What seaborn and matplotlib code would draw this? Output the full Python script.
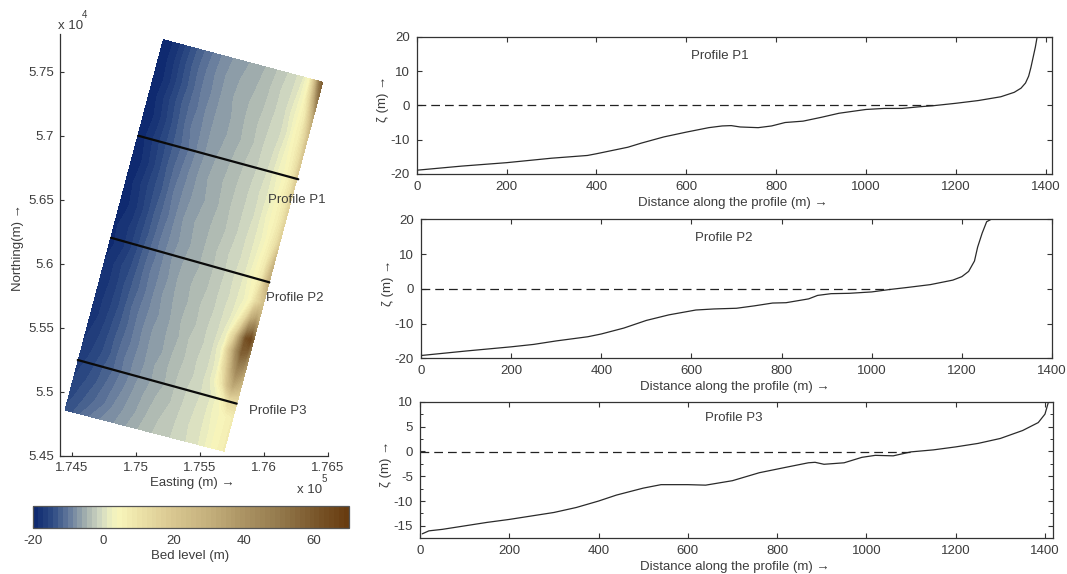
import numpy as np
import pandas as pd
import matplotlib
matplotlib.use('Agg')
import matplotlib.pyplot as plt
from matplotlib.colors import LinearSegmentedColormap
import seaborn as sns

W, H = 1067, 574
TXT = '#3c3c3c'
AXC = '#333333'
FS = 9.5

# bed level map: corners of the model area (easting, northing)
corner_nw = [175216, 57752]
corner_ne = [176461, 57420]
corner_sw = [174448, 54859]
corner_se = [175690, 54537]

# fraction across the area (west to east) and along it (north to south)
across = [0, .05, .1, .16, .23, .3, .38, .46, .54, .62, .7, .77, .83, .88, .92, .95, .98, 1]
along = [0, .05, .1, .15, .2, .26, .32, .38, .44, .5, .55, .6, .645, .7, .74, .79, .83, .865, .91, .96, 1]
bed_level = [
    [-20, -19, -17.5, -15, -12.5, -10.5, -8.5, -7, -6, -5, -3.5, -2, -.8, 1, 5, 22, 50, 58],
    [-20, -18.8, -17.2, -14.8, -12.2, -10.2, -8.2, -6.6, -5.6, -4.6, -3.2, -1.7, -.5, 1.5, 4.5, 14, 34, 50],
    [-20, -19, -17.5, -15, -12.5, -10.2, -8.4, -6.5, -5.4, -4.3, -3.1, -1.7, -.3, 2, 4.5, 8, 20, 32],
    [-20, -18.6, -17, -14.7, -12.2, -10.4, -8.1, -6.7, -5.7, -4.2, -2.9, -1.5, -.5, 1.5, 5, 7, 14, 22],
    [-20, -19, -17.5, -15.2, -12.5, -10.1, -8.4, -6.4, -5.8, -4.4, -3, -1.3, -.2, 2, 4.5, 7, 12, 20],
    [-20, -18.5, -17, -15, -12.8, -10.8, -8.4, -6.5, -5.3, -4, -2.6, -1.4, 0, 2.5, 4, 6, 11, 18],
    [-20, -19, -17.5, -15.3, -12.6, -10.4, -8.1, -6.2, -5.1, -3.7, -2.5, -1.1, .3, 2, 4.5, 6.5, 10, 16],
    [-19.5, -18.5, -17, -15, -12.9, -10.1, -8, -6.4, -5.4, -3.8, -2.3, -1.2, .2, 2.5, 4.5, 6, 10, 15],
    [-19.5, -18.8, -17.5, -15.3, -12.5, -10.4, -7.7, -6.1, -4.9, -3.9, -2.5, -1, .5, 2, 4.2, 7, 11, 17],
    [-19, -18, -17, -15, -12.5, -10, -7.9, -6.3, -5, -3.6, -2.1, -.8, .3, 2.5, 5, 8, 18, 28],
    [-19, -18.3, -17, -14.9, -12.1, -10, -7.6, -6, -5, -3.6, -2.4, -.6, .5, 3, 5, 9, 22, 30],
    [-18.5, -17.5, -16, -14.5, -12, -9.7, -7.9, -5.9, -4.6, -3.7, -2.1, -.8, .8, 2.5, 5, 12, 18, 22],
    [-18.5, -17.5, -16.2, -14.1, -12, -9.9, -7.6, -6, -4.8, -3.3, -2.2, -.6, 1, 4, 14, 30, 36, 30],
    [-18.5, -17.2, -16, -14.2, -11.6, -9.6, -7.8, -6.3, -4.6, -3.5, -1.9, -.6, 2, 16, 42, 62, 66, 56],
    [-18, -17.2, -15.8, -13.9, -11.8, -9.5, -7.5, -6.2, -4.9, -3.1, -2, -.4, 3, 24, 46, 58, 56, 46],
    [-17.5, -16.5, -15.5, -13.6, -11.5, -9.7, -7.5, -6.5, -4.6, -3.2, -1.7, -.5, 2, 16, 34, 44, 40, 34],
    [-17, -16.2, -15, -13.7, -11.3, -9.3, -7.7, -5.9, -4.5, -3, -1.8, -.3, 2, 9, 24, 32, 28, 24],
    [-16.5, -15.6, -14.5, -13, -11.4, -9.4, -7.5, -6, -4.7, -2.9, -1.5, -.4, .8, 3, 8, 14, 14, 14],
    [-15.8, -14.8, -14, -12.5, -10.6, -9, -7, -5.5, -4, -3, -1.3, -.2, 1, 3, 4, 5, 6, 7],
    [-15, -14, -12.8, -11.5, -10, -8, -6.8, -5, -3.5, -2.5, -1.2, 0, 1, 2.5, 4, 5, 6, 7],
    [-14, -13, -11.5, -10, -8.5, -7.5, -6, -4.5, -3.2, -2.5, -1, -.2, .8, 2.5, 4, 5, 6, 7],
]

# profile tracks on the map
track_e = [[175020, 176270], [174807, 176044], [174547, 175789]]
track_n = [[57002, 56662], [56205, 55857], [55250, 54909]]

# colour scale of the bed level
cmap_levels = [-20, -15, -10, -5, -1, 2, 4, 10, 20, 30, 40, 50, 60, 70]
cmap_colors = ['#0f2a70', '#2f4c84', '#6a7f9e', '#a8b4b0', '#d3dac2', '#eef0c0', '#f8f5bb',
               '#ece2a8', '#d8c690', '#c4b07c', '#ac9464', '#957b4e', '#7c5a2e', '#683c10']

# bed profiles (distance m, level m)
p1_x = [0, 100, 200, 300, 380, 400, 470, 500, 550, 600, 650, 680, 700, 720, 760, 790, 820, 860, 900,
        940, 1000, 1040, 1080, 1120, 1150, 1200, 1250, 1300, 1330, 1345, 1355, 1362, 1367, 1372, 1377, 1381]
p1_z = [-18.9, -17.7, -16.7, -15.4, -14.6, -14.1, -12.2, -11, -9.2, -7.8, -6.5, -6, -5.9, -6.3, -6.5,
        -6, -5, -4.6, -3.5, -2.3, -1.2, -.9, -.9, -.4, -.1, .6, 1.4, 2.5, 3.8, 5, 6.5, 8.5, 11, 14, 17, 20]
p2_x = [0, 100, 200, 250, 300, 370, 400, 450, 500, 550, 610, 650, 700, 740, 780, 810, 860, 880, 910,
        950, 1000, 1040, 1080, 1130, 1180, 1200, 1215, 1228, 1235, 1245, 1255, 1265]
p2_z = [-19.2, -17.9, -16.7, -16, -15, -13.8, -13, -11.3, -9.1, -7.5, -6.1, -5.8, -5.6, -4.9, -4.1, -4,
        -2.9, -1.9, -1.4, -1.3, -.9, -.2, .4, 1.2, 2.5, 3.5, 5, 8, 12, 16, 19.3, 20]
p3_x = [5, 20, 50, 100, 150, 200, 250, 300, 350, 400, 440, 500, 540, 600, 640, 700, 760, 820, 870, 885,
        905, 950, 990, 1020, 1060, 1100, 1150, 1200, 1250, 1300, 1350, 1385, 1400, 1408]
p3_z = [-16.6, -16, -15.7, -15, -14.3, -13.7, -13, -12.3, -11.3, -10, -8.8, -7.4, -6.7, -6.7, -6.8, -5.9,
        -4.3, -3.2, -2.3, -2.2, -2.6, -2.3, -1.2, -.8, -.9, -.1, .3, .9, 1.6, 2.6, 4.2, 5.8, 7.5, 10]
dash_end = [1150, 1040, 1100]
dash_level = [0, 0, -0.1]
x_limits = [1414, 1400, 1418]
y_limits = [(-20, 20), (-20, 20), (-17.5, 10)]
y_ticks = [[-20, -10, 0, 10, 20], [-20, -10, 0, 10, 20], [-15, -10, -5, 0, 5, 10]]
dist_ticks = [0, 200, 400, 600, 800, 1000, 1200, 1400]
profile_names = ['Profile P1', 'Profile P2', 'Profile P3']
map_x_ticks = [174500, 175000, 175500, 176000, 176500]
map_x_labels = ['1.745', '1.75', '1.755', '1.76', '1.765']
map_y_ticks = [54500, 55000, 55500, 56000, 56500, 57000, 57500]
map_y_labels = ['5.45', '5.5', '5.55', '5.6', '5.65', '5.7', '5.75']

sns.set_theme(style='ticks')
plt.rcParams['font.family'] = ['Liberation Sans', 'DejaVu Sans']
plt.rcParams['font.size'] = FS
plt.rcParams['axes.unicode_minus'] = False
plt.rcParams['axes.edgecolor'] = AXC
plt.rcParams['axes.linewidth'] = 0.9


def px_axes(fig, left, top, right, bottom):
    return fig.add_axes([left / W, 1 - bottom / H, (right - left) / W, (bottom - top) / H])


def px_text(fig, x, y, s, **kw):
    kw.setdefault('ha', 'center')
    kw.setdefault('va', 'center')
    kw.setdefault('color', TXT)
    kw.setdefault('fontsize', FS)
    fig.text(x / W, 1 - y / H, s, **kw)


def plot_map(fig):
    ax = px_axes(fig, 59.7, 33.6, 327.7, 456)
    u, v = np.meshgrid(across, along)
    nw, ne, sw, se = [np.array(c, dtype=float) for c in (corner_nw, corner_ne, corner_sw, corner_se)]
    east = (1 - v) * ((1 - u) * nw[0] + u * ne[0]) + v * ((1 - u) * sw[0] + u * se[0])
    north = (1 - v) * ((1 - u) * nw[1] + u * ne[1]) + v * ((1 - u) * sw[1] + u * se[1])

    stops = [(l + 20) / 90 for l in cmap_levels]
    cmap = LinearSegmentedColormap.from_list('bed', list(zip(stops, cmap_colors)), N=64)
    cf = ax.contourf(east, north, np.array(bed_level), levels=np.linspace(-20, 70, 65), cmap=cmap,
                     vmin=-20, vmax=70)
    for e, n in zip(track_e, track_n):
        sns.lineplot(x=e, y=n, ax=ax, color='#0a0a0a', linewidth=1.6, estimator=None, sort=False)

    ax.set_xlim(174406, 176500)
    ax.set_ylim(54500, 57800)
    ax.set_xticks(map_x_ticks, map_x_labels)
    ax.set_yticks(map_y_ticks, map_y_labels)
    ax.tick_params(direction='in', length=3, width=0.8, colors=AXC, labelcolor=TXT, labelsize=FS, pad=4)
    ax.set_xlabel('')
    ax.set_ylabel('')
    sns.despine(ax=ax)
    ax.patch.set_alpha(0)

    px_text(fig, 192, 483, 'Easting (m) →')
    px_text(fig, 18, 248, 'Northing(m) →', rotation=90)
    px_text(fig, 71, 26, 'x 10')
    px_text(fig, 85, 15, '4', fontsize=7)
    px_text(fig, 310, 490, 'x 10')
    px_text(fig, 324, 479, '5', fontsize=7)
    px_text(fig, 297, 200, profile_names[0])
    px_text(fig, 295, 298, profile_names[1])
    px_text(fig, 278, 411, profile_names[2])

    cax = px_axes(fig, 33, 505.7, 349, 527.7)
    cb = fig.colorbar(cf, cax=cax, orientation='horizontal')
    cb.set_ticks([-20, 0, 20, 40, 60])
    cb.ax.set_xlim(-20, 70)
    cb.outline.set_edgecolor('#555555')
    cb.ax.tick_params(direction='in', length=2.5, width=0.8, top=True, bottom=True, colors=AXC,
                      labelcolor=TXT, labelsize=FS, pad=5)
    px_text(fig, 190, 556, 'Bed level (m)')


def plot_profile(fig, box, xs, zs, i, label_xy, zeta_x):
    ax = px_axes(fig, *box)
    df = pd.DataFrame({'distance': xs, 'level': zs})
    sns.lineplot(data=df, x='distance', y='level', ax=ax, color='#2a2a2a', linewidth=0.9,
                 estimator=None, sort=False)
    sns.lineplot(x=[0, dash_end[i]], y=[dash_level[i], dash_level[i]], ax=ax, color='#222222',
                 linewidth=0.9, linestyle=(0, (7, 4)), estimator=None, sort=False)
    ax.set_xlim(0, x_limits[i])
    ax.set_ylim(*y_limits[i])
    ax.set_xticks(dist_ticks)
    ax.set_yticks(y_ticks[i])
    if i == 2:
        ax.set_yticks([-15 + 2.5 * k for k in range(-1, 11) if k % 2], minor=True)
        ax.tick_params(which='minor', direction='in', length=2, width=0.7, right=True, colors=AXC)
    ax.tick_params(direction='in', length=3.5, width=0.8, top=True, right=True, colors=AXC,
                   labelcolor=TXT, labelsize=FS, pad=5)
    ax.set_xlabel('')
    ax.set_ylabel('')
    ax.text(*label_xy, profile_names[i], ha='center', va='center', color=TXT, fontsize=FS)
    mid_x = (box[0] + box[2]) / 2 - 2
    px_text(fig, mid_x, box[3] + 29, 'Distance along the profile (m) →')
    px_text(fig, zeta_x, (box[1] + box[3]) / 2 - 6, 'ζ (m) →', rotation=90)


fig = plt.figure(figsize=(W / 100, H / 100), dpi=100)
plot_map(fig)
plot_profile(fig, (416.7, 36.7, 1052, 174), p1_x, p1_z, 0, (674, 14.4), 383)
plot_profile(fig, (421, 219.3, 1052, 358.3), p2_x, p2_z, 1, (672, 14.6), 388)
plot_profile(fig, (420, 401.7, 1053, 538.3), p3_x, p3_z, 2, (702, 6.8), 386)
fig.savefig('out.png', dpi=100)
